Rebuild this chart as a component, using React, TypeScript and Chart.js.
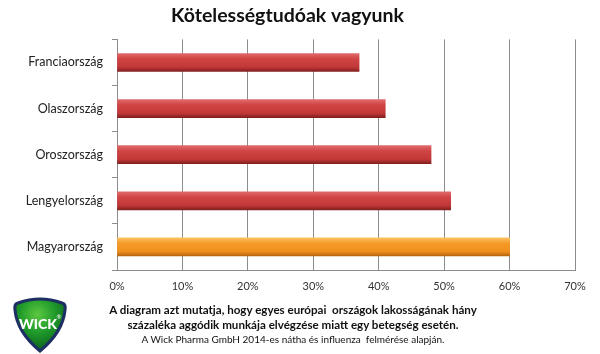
import React, { useEffect, useRef } from "react";
import { Chart, registerables } from "chart.js";

Chart.register(...registerables);

const countries = ["Franciaország", "Olaszország", "Oroszország", "Lengyelország", "Magyarország"];
const values = [37, 41, 48, 51, 60];
const highlighted = "Magyarország";
const xTicksMax = 70;
const xStep = 10;
const titleText = "Kötelességtudóak vagyunk";
const captionLines = [
  "A diagram azt mutatja, hogy egyes európai  országok lakosságának hány",
  "százaléka aggódik munkája elvégzése miatt egy betegség esetén.",
];
const sourceLine = "A Wick Pharma GmbH 2014-es nátha és influenza  felmérése alapján.";

const FONT = "Lato, 'Open Sans', sans-serif";

function Logo() {
  return (
    <svg width="54" height="60" viewBox="0 0 54 60" style={{ position: "absolute", left: 13, top: 294 }}>
      <defs>
        <radialGradient id="g" cx="45%" cy="30%" r="70%">
          <stop offset="0" stopColor="#5cc840" />
          <stop offset="0.5" stopColor="#1f9a2a" />
          <stop offset="1" stopColor="#0b5f1c" />
        </radialGradient>
      </defs>
      <path
        d="M5 9 Q27 1 49 9 Q53 10 52 16 Q50 38 27 57 Q4 38 2 16 Q1 10 5 9 Z"
        fill="url(#g)"
        stroke="#1d2f63"
        strokeWidth="3"
      />
      <text x="25" y="35" textAnchor="middle" fill="#ffffff" fontFamily="Lato, sans-serif" fontWeight="900" fontSize="14">
        WICK
      </text>
      <text x="46" y="25" textAnchor="middle" fill="#ffffff" fontFamily="Lato, sans-serif" fontSize="6">
        ®
      </text>
    </svg>
  );
}

export default function App() {
  const ref = useRef<HTMLCanvasElement>(null);

  useEffect(() => {
    if (!ref.current) return;
    const bg = (ctx: any) => {
      const chart = ctx.chart;
      const ys = chart.scales?.y;
      const isHi = countries[ctx.dataIndex] === highlighted;
      const flat = isHi ? "#f39425" : "#c83c3c";
      if (!ys || ctx.dataIndex == null) return flat;
      const c = ys.getPixelForValue(ctx.dataIndex);
      if (!isFinite(c)) return flat;
      const g = chart.ctx.createLinearGradient(0, c - 9, 0, c + 9);
      if (isHi) {
        g.addColorStop(0, "#fcc061");
        g.addColorStop(0.3, "#f69a26");
        g.addColorStop(0.75, "#f0901e");
        g.addColorStop(1, "#b86612");
      } else {
        g.addColorStop(0, "#e06a6a");
        g.addColorStop(0.3, "#d04444");
        g.addColorStop(0.75, "#c23838");
        g.addColorStop(1, "#842020");
      }
      return g;
    };
    const chart = new Chart(ref.current, {
      type: "bar",
      data: {
        labels: countries,
        datasets: [
          {
            data: values,
            backgroundColor: bg,
            borderWidth: 0,
            barThickness: 18,
          },
        ],
      },
      options: {
        indexAxis: "y",
        animation: false,
        responsive: false,
        maintainAspectRatio: false,
        layout: { padding: { left: 0, right: 25, top: 0, bottom: 0 } },
        plugins: {
          legend: { display: false },
          tooltip: { enabled: false },
          title: {
            display: true,
            text: titleText,
            color: "#111",
            font: { family: FONT, size: 19.5, weight: "bold" },
            padding: { top: 4, bottom: 12 },
          },
        },
        scales: {
          x: {
            min: 0,
            max: xTicksMax,
            ticks: {
              stepSize: xStep,
              callback: (v: any) => v + "%",
              color: "#333",
              font: { family: FONT, size: 11 },
              padding: 10,
            },
            grid: { color: "#8c8c8c", lineWidth: 1, drawTicks: false },
            border: { display: true, color: "#8c8c8c" },
            afterFit: (s: any) => {
              s.height = 84;
            },
          },
          y: {
            ticks: {
              color: "#222",
              font: { family: FONT, size: 12.5 },
              padding: 9,
            },
            grid: { offset: true, drawOnChartArea: false, tickLength: 5, color: "#8c8c8c" },
            border: { display: true, color: "#8c8c8c" },
            afterFit: (s: any) => {
              s.width = 117;
            },
          },
        },
      },
    });
    return () => chart.destroy();
  }, []);

  return (
    <div style={{ position: "absolute", left: 0, top: 0, width: 600, height: 354, background: "#fff", overflow: "hidden" }}>
      <canvas ref={ref} width={600} height={354} style={{ position: "absolute", left: 0, top: 0 }} />
      <Logo />
      <div
        style={{
          position: "absolute",
          left: 93,
          width: 400,
          top: 302,
          textAlign: "center",
          fontFamily: FONT,
          color: "#111",
        }}
      >
        {captionLines.map((l, i) => (
          <div key={i} style={{ fontWeight: "bold", fontSize: 11.6, lineHeight: "15px", whiteSpace: "pre" }}>
            {l}
          </div>
        ))}
        <div style={{ fontSize: 10, lineHeight: "14px", whiteSpace: "pre" }}>{sourceLine}</div>
      </div>
    </div>
  );
}
